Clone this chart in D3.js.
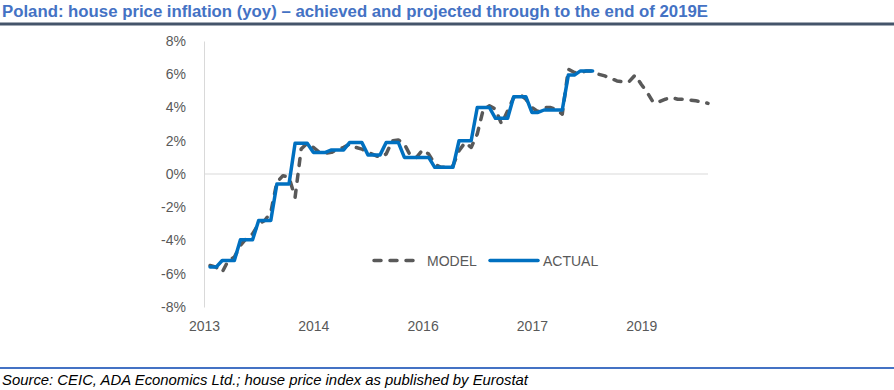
<!DOCTYPE html>
<html>
<head>
<meta charset="utf-8">
<script src="https://cdn.jsdelivr.net/npm/d3@7"></script>
<style>
  body { margin: 0; background: #ffffff; }
  svg { display: block; }
</style>
</head>
<body>
<div id="chartDIV"></div>
<script>
// month index 0 = Jan 2013, one step per month
var yearTicks = [0, 18, 36, 54, 72];
var yearLabels = ["2013", "2014", "2016", "2017", "2019"];
var yTicks = [-8, -6, -4, -2, 0, 2, 4, 6, 8];

// actual starts at month 1 (Feb 2013)
var actualStart = 1;
var actual = [
  -5.6, -5.6,
  -5.2, -5.2, -5.2,
  -3.95, -3.95, -3.95,
  -2.8, -2.8, -2.8,
  -0.6, -0.6, -0.6,
  1.85, 1.85, 1.85,
  1.3, 1.3, 1.3,
  1.45, 1.45, 1.45,
  1.9, 1.9, 1.9,
  1.15, 1.15, 1.15,
  1.9, 1.9, 1.9,
  1.0, 1.0, 1.0, 1.0, 1.0,
  0.4, 0.4, 0.4, 0.4,
  2.0, 2.0, 2.0,
  4.0, 4.0, 4.0,
  3.35, 3.35, 3.35,
  4.65, 4.65, 4.65,
  3.7, 3.7,
  3.85, 3.85, 3.85, 3.85,
  5.95, 5.95,
  6.2, 6.2, 6.2
];

// model runs through to Dec 2019
var modelStart = 1;
var model = [
  -5.5, -5.6, -5.9, -5.2, -5.0, -4.3, -3.85, -3.6, -3.0, -2.8,
  -2.3, -0.5, -0.1, -0.2, -1.4, 1.5, 1.85, 1.6, 1.3, 1.25,
  1.3, 1.5, 1.6, 1.8, 1.6, 1.5, 1.3, 1.15, 1.0, 1.2,
  2.0, 2.05, 1.8, 1.1, 1.0, 1.45, 1.2, 0.6, 0.4, 0.4,
  0.5, 1.4, 1.9, 1.6, 2.4, 3.9, 4.1, 3.9, 3.0, 3.8,
  4.6, 4.8, 4.5, 4.0, 3.75, 4.0, 4.0, 3.9, 3.6, 6.3,
  6.1, 6.1, 6.2, 6.2, 6.0, 5.9, 5.75, 5.6, 5.55, 5.55,
  5.95, 5.4, 4.9, 4.3, 4.35, 4.5, 4.6, 4.5, 4.5, 4.45,
  4.4, 4.35, 4.25
];

var width = 894, height = 390;
var textFont = "'Liberation Sans', Arial, sans-serif";
var narrowFont = "'Liberation Sans Narrow', 'Arial Narrow', 'Liberation Sans', Arial, sans-serif";

var svg = d3.select("#chartDIV")
  .append("svg")
  .attr("width", width)
  .attr("height", height);

var x = d3.scaleLinear().domain([0, 83]).range([204, 708]);
var y = d3.scaleLinear().domain([-8, 8]).range([307, 41]);

// title and rule under it
svg.append("text")
  .text("Poland: house price inflation (yoy) \u2013 achieved and projected through to the end of 2019E")
  .attr("x", 2)
  .attr("y", 17)
  .attr("textLength", 706)
  .attr("lengthAdjust", "spacingAndGlyphs")
  .style("font-family", narrowFont)
  .style("font-weight", "bold")
  .style("font-size", "16px")
  .style("fill", "#4472c4");

svg.append("rect")
  .attr("x", 0).attr("y", 22.5)
  .attr("width", width).attr("height", 3)
  .style("fill", "#44546a");

// y axis
var yAxis = d3.axisLeft(y)
  .tickValues(yTicks)
  .tickFormat(function(d) { return d + "%"; })
  .tickSize(0)
  .tickSizeOuter(0)
  .tickPadding(18);

var yG = svg.append("g")
  .attr("transform", "translate(" + x.range()[0] + ",0)")
  .call(yAxis);
yG.select(".domain").style("stroke", "#d9d9d9").style("stroke-width", 1);
yG.selectAll("text")
  .style("font-family", textFont)
  .style("font-size", "14px")
  .style("fill", "#595959");

// zero line
svg.append("line")
  .attr("x1", x.range()[0]).attr("x2", x.range()[1])
  .attr("y1", y(0)).attr("y2", y(0))
  .style("stroke", "#d9d9d9")
  .style("stroke-width", 1);

// year labels under the plot
var xAxis = d3.axisBottom(x)
  .tickValues(yearTicks)
  .tickFormat(function(d, i) { return yearLabels[i]; })
  .tickSize(0)
  .tickPadding(14);

var xG = svg.append("g")
  .attr("transform", "translate(0," + y.range()[0] + ")")
  .call(xAxis);
xG.select(".domain").remove();
xG.selectAll("text")
  .style("font-family", textFont)
  .style("font-size", "14px")
  .style("fill", "#595959");

// lines
var line = d3.line()
  .x(function(d) { return x(d.i); })
  .y(function(d) { return y(d.v); });

function toPoints(values, start) {
  return values.map(function(v, k) { return {i: start + k, v: v}; });
}

svg.append("path")
  .datum(toPoints(model, modelStart))
  .attr("d", line)
  .style("fill", "none")
  .style("stroke", "#595959")
  .style("stroke-width", 3.5)
  .style("stroke-dasharray", "7,9")
  .style("stroke-linecap", "round")
  .style("stroke-linejoin", "round");

svg.append("path")
  .datum(toPoints(actual, actualStart))
  .attr("d", line)
  .style("fill", "none")
  .style("stroke", "#0070c0")
  .style("stroke-width", 3.5)
  .style("stroke-linecap", "round")
  .style("stroke-linejoin", "round");

// legend
var legend = svg.append("g").attr("class", "legend");
legend.append("line")
  .attr("x1", 374).attr("x2", 415)
  .attr("y1", 260.5).attr("y2", 260.5)
  .style("stroke", "#595959")
  .style("stroke-width", 3.5)
  .style("stroke-dasharray", "7,9")
  .style("stroke-linecap", "round");
legend.append("text")
  .text("MODEL")
  .attr("x", 427).attr("y", 265.5)
  .style("font-family", textFont)
  .style("font-size", "14px")
  .style("fill", "#595959");
legend.append("line")
  .attr("x1", 490).attr("x2", 538)
  .attr("y1", 260.5).attr("y2", 260.5)
  .style("stroke", "#0070c0")
  .style("stroke-width", 3.5)
  .style("stroke-linecap", "round");
legend.append("text")
  .text("ACTUAL")
  .attr("x", 543).attr("y", 265.5)
  .style("font-family", textFont)
  .style("font-size", "14px")
  .style("fill", "#595959");

// source rule and note
svg.append("rect")
  .attr("x", 0).attr("y", 367)
  .attr("width", width).attr("height", 2)
  .style("fill", "#4472c4");

svg.append("text")
  .text("Source: CEIC, ADA Economics Ltd.; house price index as published by Eurostat")
  .attr("x", 2)
  .attr("y", 385)
  .attr("textLength", 526)
  .attr("lengthAdjust", "spacingAndGlyphs")
  .style("font-family", narrowFont)
  .style("font-style", "italic")
  .style("font-size", "15px")
  .style("fill", "#000000");
</script>
</body>
</html>
